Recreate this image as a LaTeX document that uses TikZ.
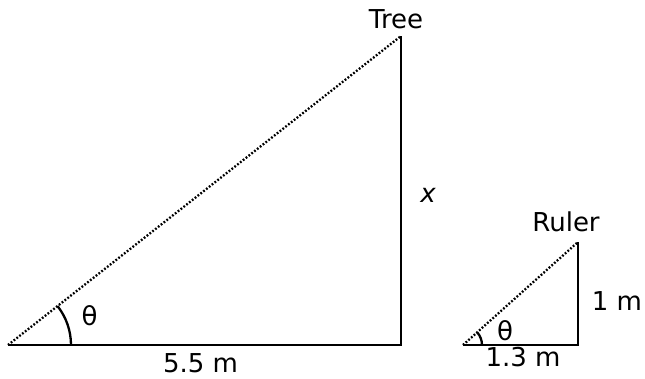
\documentclass[tikz,border=0pt]{standalone}
\usepackage{fontspec}
\setmainfont{DejaVu Sans}
\begin{document}
\begin{tikzpicture}[x=1pt,y=-1pt,
  side/.style={line width=2.3pt},
  hyp/.style={line width=2.3pt,dash pattern=on 1.8pt off 1.8pt},
  lbl/.style={inner sep=0pt,font=\fontsize{26}{31}\selectfont}]
\useasboundingbox (0,0) rectangle (645,378);
% big triangle
\coordinate (A) at (8,345);
\coordinate (B) at (401,345);
\coordinate (C) at (401,36);
\draw[side] (A) -- (B) -- (C);
\draw[hyp] (A) -- (C);
\draw[side] ([xshift=63pt]A) arc[start angle=0,end angle=38.2,radius=63pt];
\node[lbl] (tree) at (396,19) {Tree};
\node[lbl] (xl) at (428,195) {\itshape x};
\node[lbl] (th1) at (89.5,316) {θ};
\node[lbl] (d1) at (200.5,363.5) {5.5 m};
% small triangle
\coordinate (D) at (463,345);
\coordinate (E) at (578,345);
\coordinate (F) at (578,242);
\draw[side] (D) -- (E) -- (F);
\draw[hyp] (D) -- (F);
\draw[side] ([xshift=19pt]D) arc[start angle=0,end angle=41.8,radius=19pt];
\node[lbl] (ruler) at (566,222) {Ruler};
\node[lbl] (d2) at (617,301) {1 m};
\node[lbl] (th2) at (505,331) {θ};
\node[lbl] (d3) at (523,357) {1.3 m};
\end{tikzpicture}
\end{document}
